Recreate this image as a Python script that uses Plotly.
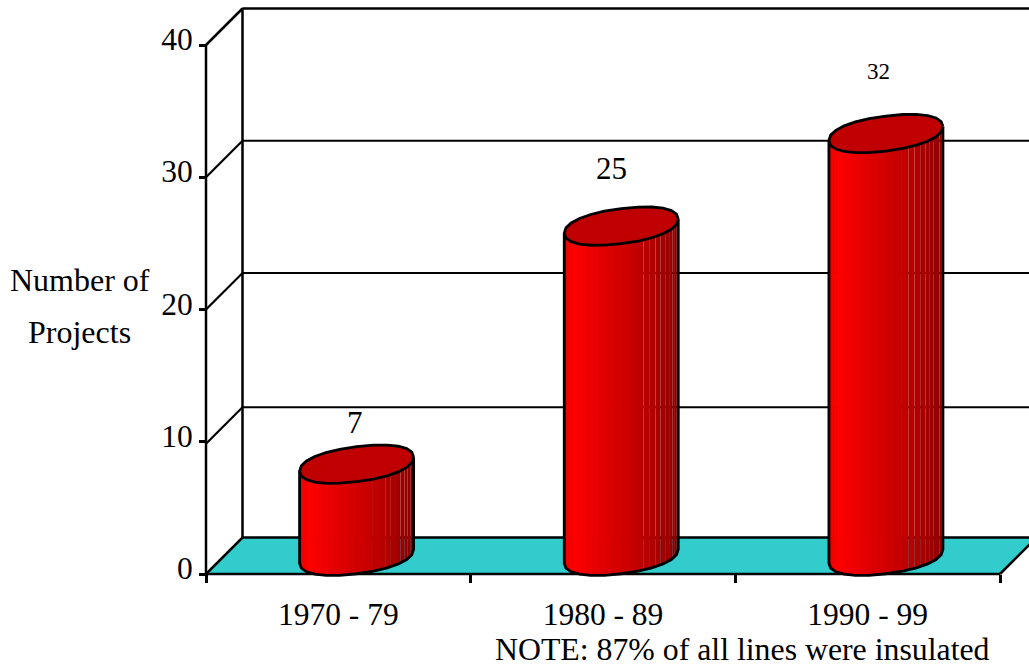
import numpy as np
import plotly.graph_objects as go

categories = ["1970 - 79", "1980 - 89", "1990 - 99"]
values = [7, 25, 32]
label_sizes = [31, 31, 23]
label_gaps_px = [41, 57, 61]
label_dx_px = [-2, -10, -7]
y_ticks = [0, 10, 20, 30, 40]
gridlines = [9.85, 20, 30]
note = "NOTE: 87% of all lines were insulated"
y_title = ["Number of", "Projects"]

W, H = 1029, 669
L, R, T, B = 190, 0, 5, 85
X0_PX, Y0_PX = 206, 574   # page position of the chart's front-left corner
PX_X = 264.67          # pixels per category
PX_Y = 13.225          # pixels per project
DEPTH = 36.5           # pixels of chart depth
FONT = "Liberation Serif"
dx = lambda p: p / PX_X
dy = lambda p: p / PX_Y
xmin, xmax = dx(L - X0_PX), dx(W - R - X0_PX)
ymin, ymax = dy(Y0_PX - (H - B)), dy(Y0_PX - T)
xp = lambda p: (p - L) / (W - L - R)
yp = lambda p: (H - B - p) / (H - T - B)

fig = go.Figure()


def poly(xs, ys, fill=None, line=None, width=0):
    fig.add_trace(go.Scatter(
        x=xs, y=ys, mode="lines", hoverinfo="skip", showlegend=False,
        fill="toself" if fill else "none", fillcolor=fill,
        line=dict(color=line or "rgba(0,0,0,0)", width=width if line else 0)))


BLACK = "#000000"
# floor
poly([0, 3, 3 + dx(DEPTH), dx(DEPTH), 0], [0, 0, dy(DEPTH), dy(DEPTH), 0], fill="#33CCCC")
# back wall and gridlines
poly([0, dx(DEPTH), dx(DEPTH)], [40, 40 + dy(DEPTH), dy(DEPTH)], line=BLACK, width=2.5)
poly([dx(DEPTH), xmax], [40 + dy(DEPTH)] * 2, line=BLACK, width=2.5)
poly([0, dx(DEPTH), xmax], [0, dy(DEPTH), dy(DEPTH)], line=BLACK, width=2.5)
for g in gridlines:
    poly([0, dx(DEPTH), xmax], [g, g + dy(DEPTH), g + dy(DEPTH)], line=BLACK, width=2.2)
# front axes and right floor edge
poly([0, 0], [0, 40], line=BLACK, width=2.5)
poly([0, 3], [0, 0], line=BLACK, width=2.5)
poly([3, 3 + dx(DEPTH)], [0, dy(DEPTH)], line=BLACK, width=2.5)

# cylinders
A, E_B, E_C = 57, 17.5, 7
N = 26
P = 0.9
STOPS_U = [0, 0.10, 0.5, 0.75, 1]
STOPS_R = [232, 255, 210, 178, 140]


def spow(v):
    return np.sign(v) * np.abs(v) ** P


def edge(t, cx, cy):
    c, s = spow(np.cos(t)), spow(np.sin(t))
    return cx + dx(A) * c, cy + dy(E_B) * s + dy(E_C) * c


for i, v in enumerate(values):
    cx = i + 0.5 + dx(DEPTH / 2)
    y0 = dy(DEPTH / 2 - 0.5)
    y1 = v + y0 - dy(0.5)
    ts = np.linspace(np.pi, 2 * np.pi, N + 1)
    for k in range(N):
        t = ts[k:k + 2]
        xb, yb = edge(t, cx, y0)
        xt, yt = edge(t, cx, y1)
        u = (1 + np.cos(t).mean()) / 2
        r = int(np.interp(u, STOPS_U, STOPS_R))
        col = f"rgb({r},0,0)"
        poly(list(xb) + list(xt[::-1]) + [xb[0]], list(yb) + list(yt[::-1]) + [yb[0]],
             fill=col, line=col if u < 0.62 else None, width=1)
    tb = np.linspace(np.pi, 2 * np.pi, 13)
    xb, yb = edge(tb, cx, y0)
    xl, yl = edge(np.array([np.pi]), cx, y1)
    xr, yr = edge(np.array([0.0]), cx, y1)
    poly(list(xl) + list(xb) + list(xr), list(yl) + list(yb) + list(yr), line=BLACK, width=2.8)
    te = np.linspace(0, 2 * np.pi, 25)
    xe, ye = edge(te, cx, y1)
    poly(list(xe), list(ye), fill="#C00000", line=BLACK, width=2.8)

annotations = []
for i, v in enumerate(values):
    annotations.append(dict(
        x=i + 0.5 + dx(DEPTH / 2), y=v + dy(DEPTH / 2), xref="x", yref="y",
        xshift=label_dx_px[i], yshift=label_gaps_px[i], text=str(v), showarrow=False,
        xanchor="center", yanchor="middle",
        font=dict(family=FONT, size=label_sizes[i], color=BLACK)))
for text, py in zip(y_title, [280, 332]):
    annotations.append(dict(x=xp(80), y=yp(py), xref="paper", yref="paper", text=text,
                            showarrow=False, xanchor="center", yanchor="middle",
                            font=dict(family=FONT, size=32, color=BLACK)))
annotations.append(dict(x=xp(742), y=yp(649), xref="paper", yref="paper", text=note,
                        showarrow=False, xanchor="center", yanchor="middle",
                        font=dict(family=FONT, size=31.8, color=BLACK)))

fig.update_layout(
    width=W, height=H, margin=dict(l=L, r=R, t=T, b=B, pad=0, autoexpand=False),
    paper_bgcolor="white", plot_bgcolor="white", showlegend=False,
    annotations=annotations, font=dict(family=FONT, color=BLACK),
    xaxis=dict(range=[xmin, xmax], showgrid=False, zeroline=False, showline=False,
               anchor="free", position=yp(Y0_PX),
               tickmode="array", tickvals=[0.5, 1.5, 2.5], ticktext=categories, ticks="",
               ticklabelstandoff=18, tickfont=dict(family=FONT, size=31.5, color=BLACK),
               minor=dict(tickmode="array", tickvals=[0, 1, 2, 3], ticks="outside",
                          ticklen=8, tickwidth=2.5, tickcolor=BLACK, showgrid=False)),
    yaxis=dict(range=[ymin, ymax], showgrid=False, zeroline=False, showline=False,
               anchor="free", position=xp(X0_PX),
               tickmode="array", tickvals=y_ticks, ticks="outside", ticklen=7, tickwidth=2.5,
               tickcolor=BLACK, ticklabelshift=-6, tickfont=dict(family=FONT, size=31.5, color=BLACK)),
)

fig.write_html("out.html", config=dict(displayModeBar=False),
               post_script="document.body.style.margin='0';")
